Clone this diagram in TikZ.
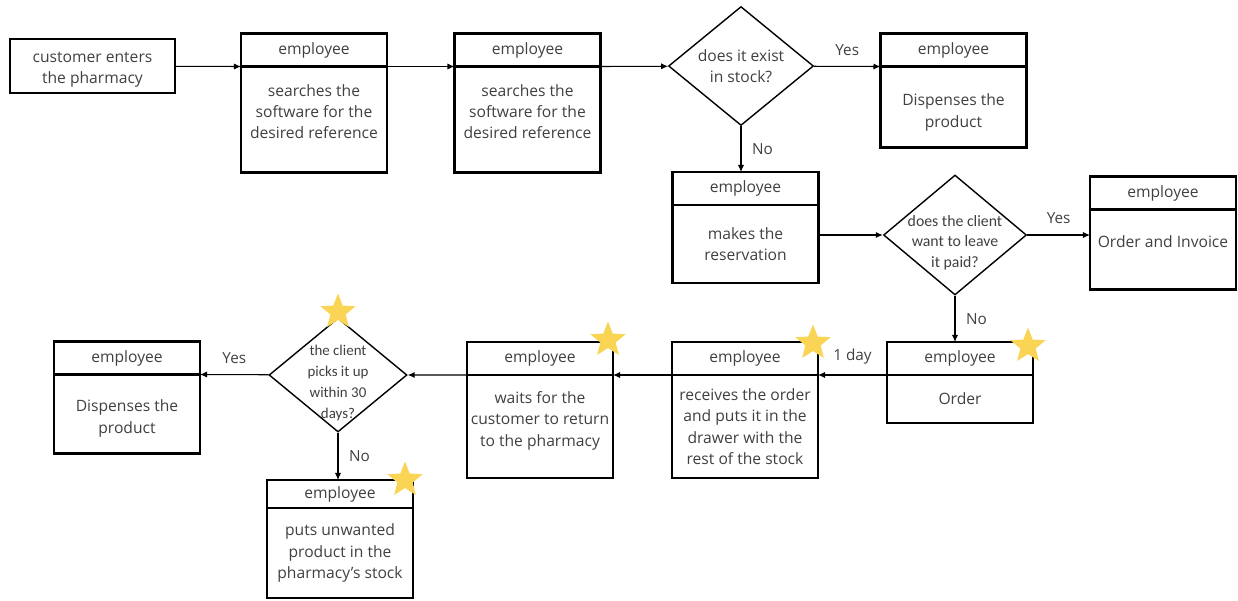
\documentclass[tikz,border=0pt]{standalone}
\usepackage{fontspec}
\setmainfont{Open Sans}
\newfontfamily\calibfont{Carlito}
\usetikzlibrary{shapes.geometric, arrows.meta, positioning}

\definecolor{txtgray}{RGB}{64,64,64}
\definecolor{stargold}{RGB}{250,212,85}

\tikzset{
  box/.style={draw, line width=1.4pt, text=txtgray, align=center, outer sep=0pt,
    font=\fontsize{8.9pt}{12.2pt}\selectfont, inner sep=1pt},
  start/.style={box, minimum width=3.3cm, minimum height=1.08cm},
  head/.style={box, minimum width=2.92cm, minimum height=0.66cm},
  body/.style={box, minimum width=2.92cm, below=0pt of #1},
  decision/.style={diamond, draw, line width=0.8pt, text=txtgray, align=center,
    inner xsep=-12pt, inner ysep=-6pt},
  starmark/.style={star, star points=5, star point ratio=2.3, fill=stargold, draw=none,
    minimum size=0.74cm, inner sep=0pt},
  lbl/.style={text=txtgray, font=\fontsize{8.7pt}{10pt}\selectfont, inner sep=6pt}
}

\begin{document}
\begin{tikzpicture}[x=0.02cm, y=-0.02cm, auto, >={Latex[length=4pt,width=3.5pt]}]
  \useasboundingbox (0,0) rectangle (1238,600);

  % top row
  \node[start, text height=22pt] (c0) at (92.5,66) {customer enters\\the pharmacy};
  \node[head] (e1h) at (314,50) {employee};
  \node[body=e1h, minimum height=2.12cm, text depth=9pt] (e1) {searches the\\software for the\\desired reference};
  \node[head] (e2h) at (527.5,50) {employee};
  \node[body=e2h, minimum height=2.12cm, text depth=9pt] (e2) {searches the\\software for the\\desired reference};
  \node[decision, minimum width=2.9cm, minimum height=2.38cm,
        font=\fontsize{8.9pt}{12.2pt}\selectfont] (d1) at (741,66) {does it exist\\in stock?};
  \node[head] (e3h) at (953.5,50) {employee};
  \node[body=e3h, minimum height=1.62cm, text height=25pt] (e3) {Dispenses the\\product};

  % middle row
  \node[head] (e4h) at (745.5,188.5) {employee};
  \node[body=e4h, minimum height=1.56cm] (e4) {makes the\\reservation};
  \node[decision, minimum width=2.86cm, minimum height=2.4cm, text height=38pt,
        font=\calibfont\fontsize{9pt}{11.5pt}\selectfont] (d2) at (955,235) {does the client\\want to leave\\it paid?};
  \node[head] (e5h) at (1163,193) {employee};
  \node[body=e5h, minimum height=1.6cm, text depth=9pt] (e5) {Order and Invoice};

  % bottom row
  \node[head] (e6h) at (960,358.5) {employee};
  \node[body=e6h, minimum height=0.96cm] (e6) {Order};
  \node[head] (e7h) at (745,358.5) {employee};
  \node[body=e7h, minimum height=2.06cm] (e7) {receives the order\\and puts it in the\\drawer with the\\rest of the stock};
  \node[head] (e8h) at (540,358.5) {employee};
  \node[body=e8h, minimum height=2.06cm, text depth=9pt] (e8) {waits for the\\customer to return\\to the pharmacy};
  \node[decision, minimum width=2.76cm, minimum height=2.28cm, text height=51pt,
        font=\calibfont\fontsize{8.5pt}{12pt}\selectfont] (d3) at (338,375) {the client\\picks it up\\within 30\\days?};
  \node[head] (e9h) at (127,358) {employee};
  \node[body=e9h, minimum height=1.58cm, text height=24pt] (e9) {Dispenses the\\product};
  \node[head, minimum height=0.56cm] (e10h) at (340,494) {employee};
  \node[body=e10h, minimum height=1.8cm] (e10) {puts unwanted\\product in the\\pharmacy's stock};

  \path[->, line width=0.6pt]
    (c0) edge (e1h.south west)
    (e1h.south east) edge (e2h.south west)
    (e2h.south east) edge (d1)
    (d1) edge node[lbl] {Yes} (e3h.south west)
    (d1) edge node[lbl] {No} (d1 |- e4h.north)
    (e4.east |- d2) edge (d2)
    (d2) edge node[lbl] {Yes} (d2 -| e5.west)
    (d2) edge node[lbl] {No} (d2 |- e6h.north)
    (e6h.south west) edge node[lbl, swap] {1 day} (e7h.south east)
    (e7h.south west) edge (e8h.south east)
    (e8h.south west) edge (d3)
    (d3) edge node[lbl, swap] {Yes} (e9h.south east)
    (d3) edge node[lbl] {No} (d3 |- e10h.north);

  % stars
  \node[starmark] (s1) at (338,312) {};
  \node[starmark] (s2) at (608,340) {};
  \node[starmark] (s3) at (813,343) {};
  \node[starmark] (s4) at (1028,346) {};
  \node[starmark] (s5) at (405,480) {};
\end{tikzpicture}
\end{document}
